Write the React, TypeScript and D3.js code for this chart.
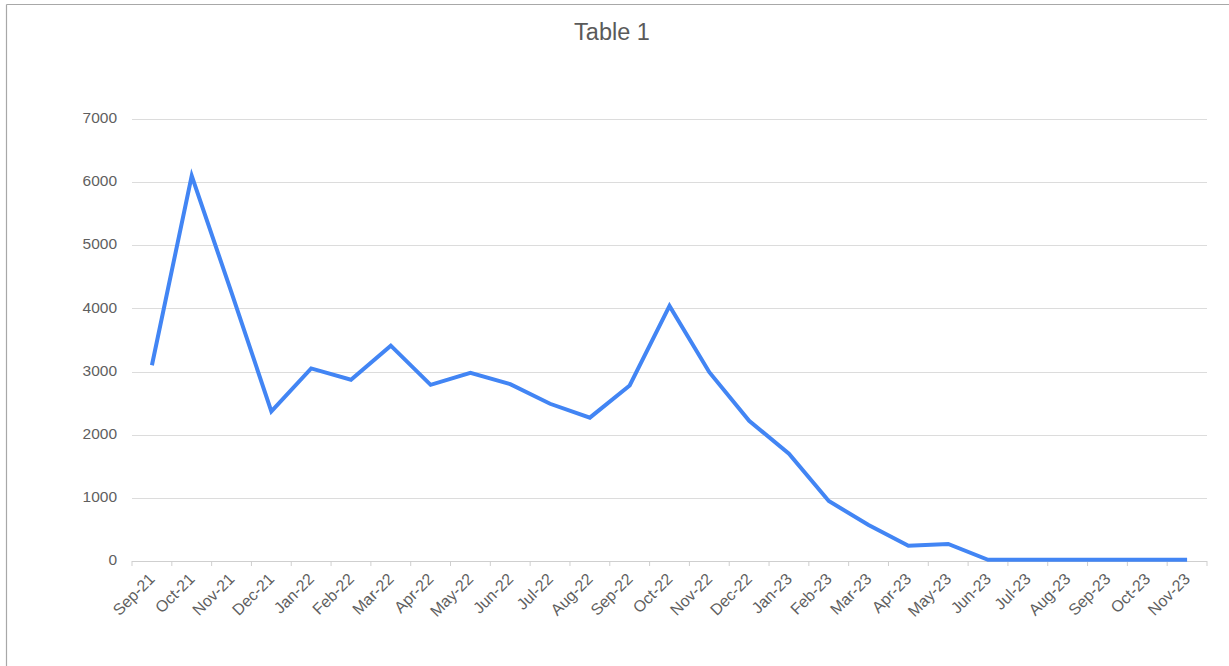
import React from "react";
import * as d3 from "d3";

const months = [
  "Sep-21", "Oct-21", "Nov-21", "Dec-21", "Jan-22", "Feb-22", "Mar-22", "Apr-22", "May-22",
  "Jun-22", "Jul-22", "Aug-22", "Sep-22", "Oct-22", "Nov-22", "Dec-22", "Jan-23", "Feb-23",
  "Mar-23", "Apr-23", "May-23", "Jun-23", "Jul-23", "Aug-23", "Sep-23", "Oct-23", "Nov-23",
];
const values = [
  3100, 6100, 4250, 2370, 3050, 2870, 3410, 2790, 2980,
  2800, 2490, 2270, 2780, 4040, 2990, 2220, 1700, 950,
  570, 240, 270, 20, 20, 20, 20, 20, 20,
];
const yTicks = [0, 1000, 2000, 3000, 4000, 5000, 6000, 7000];
const title = "Table 1";

const W = 1229;
const H = 666;
const left = 132;
const right = 1207;
const top = 119;
const bottom = 561;
const FONT = "'Liberation Sans', Arial, sans-serif";

export default function App() {
  const x = d3.scaleBand<string>().domain(months).range([left, right]).paddingInner(0).paddingOuter(0);
  const y = d3.scaleLinear().domain([0, 7000]).range([bottom, top]);
  const cx = (m: string) => (x(m) as number) + x.bandwidth() / 2;
  const line = d3
    .line<number>()
    .x((_, i) => cx(months[i]))
    .y((d) => y(d));
  const boundaries = months.map((m) => x(m) as number).concat([right]);

  return (
    <svg
      width={W}
      height={H}
      style={{ position: "absolute", left: 0, top: 0, background: "#fff" }}
      fontFamily={FONT}
    >
      <rect x={0} y={0} width={W} height={H} fill="#fff" />
      <line x1={6.5} y1={4.5} x2={W + 5} y2={4.5} stroke="#a8a8a8" strokeWidth={1.2} />
      <line x1={6.5} y1={4.5} x2={6.5} y2={H + 5} stroke="#a8a8a8" strokeWidth={1.2} />
      <text x={612} y={34} textAnchor="middle" dominantBaseline="middle" fontSize={23.5} fill="#5a5a5a">
        {title}
      </text>
      {yTicks.map((t) => (
        <g key={t}>
          {t !== 0 && (
            <line x1={left} x2={right} y1={Math.round(y(t)) + 0.5} y2={Math.round(y(t)) + 0.5} stroke="#dcdcdc" strokeWidth={1} />
          )}
          <text x={117} y={y(t)} textAnchor="end" dominantBaseline="middle" fontSize={15.5} fill="#5f5f5f">
            {t}
          </text>
        </g>
      ))}
      <line x1={left} x2={right} y1={bottom + 0.5} y2={bottom + 0.5} stroke="#cfcfcf" strokeWidth={1.2} />
      {boundaries.map((b, i) => (
        <line key={i} x1={b} x2={b} y1={bottom} y2={bottom + 5} stroke="#cfcfcf" strokeWidth={1} />
      ))}
      {months.map((m) => (
        <text
          key={m}
          transform={`translate(${cx(m) + 1},${bottom + 16}) rotate(-45)`}
          textAnchor="end"
          dominantBaseline="middle"
          fontSize={16}
          fill="#5f5f5f"
        >
          {m}
        </text>
      ))}
      <path d={line(values) as string} fill="none" stroke="#4285f4" strokeWidth={4} strokeLinejoin="miter" strokeLinecap="butt" />
    </svg>
  );
}
